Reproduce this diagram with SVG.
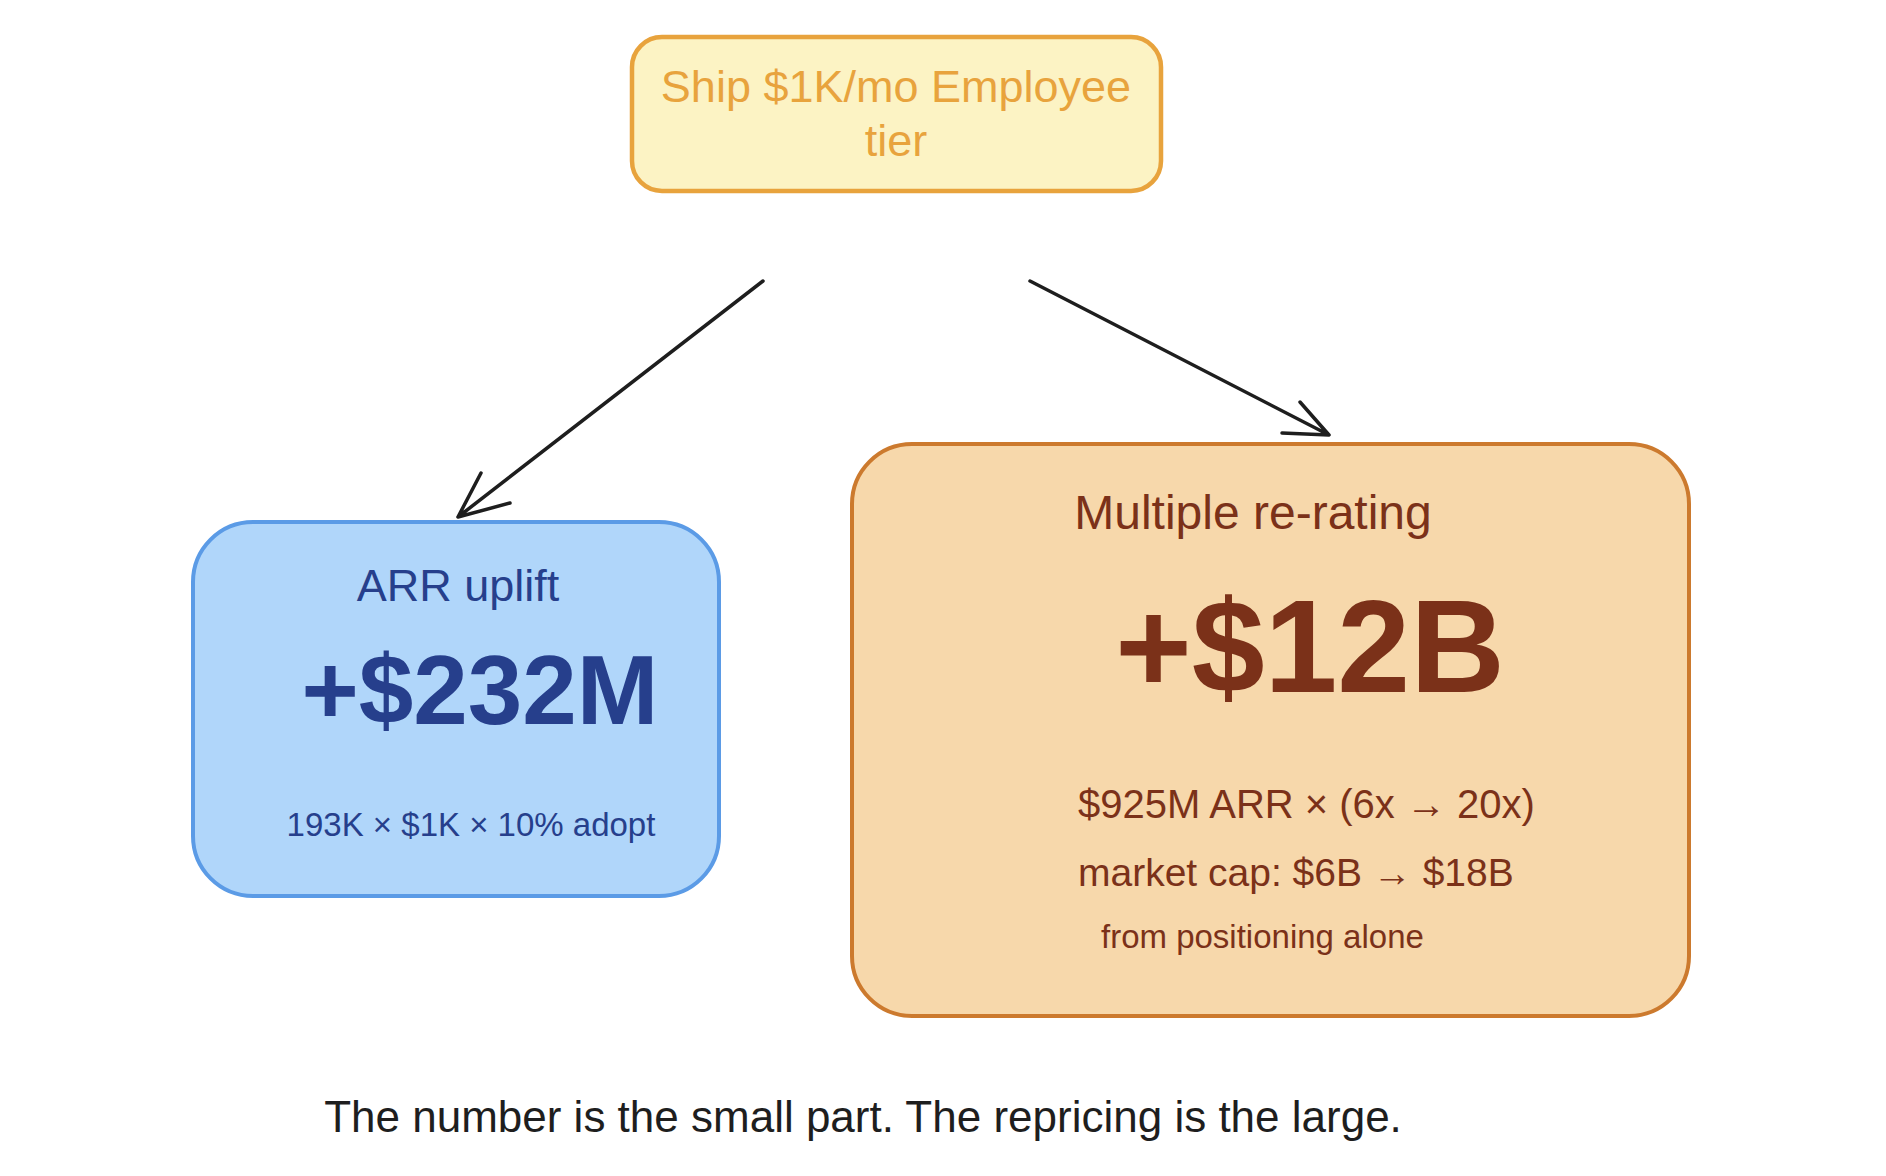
<svg xmlns="http://www.w3.org/2000/svg" width="1886" height="1176" viewBox="0 0 1886 1176">
<style>
text{font-family:"Liberation Sans","Noto Sans",sans-serif}
.conn{fill:none;stroke:#1e1e1e;stroke-width:3.5;stroke-linecap:round;stroke-linejoin:round}
.top-t{fill:#e8a33d;font-size:45px;text-anchor:middle}
.blue-t{fill:#263f8c}
.org-t{fill:#7b3119}
</style>
<rect width="1886" height="1176" fill="#ffffff"/>
<g id="node-ship">
<rect x="632" y="37" width="529" height="154" rx="30" fill="#fcf3c4" stroke="#e8a33d" stroke-width="4.5"/>
<text class="top-t" x="896" y="102">Ship $1K/mo Employee</text>
<text class="top-t" x="896" y="156">tier</text>
</g>
<g id="node-arr">
<rect x="193" y="522" width="526" height="374" rx="60" fill="#b0d6fa" stroke="#5b9be6" stroke-width="4"/>
<text class="blue-t" x="458" y="601" font-size="45" text-anchor="middle">ARR uplift</text>
<text class="blue-t" x="480" y="724" font-size="98" font-weight="bold" text-anchor="middle">+$232M</text>
<text class="blue-t" x="471" y="836" font-size="33" text-anchor="middle">193K × $1K × 10% adopt</text>
</g>
<g id="node-rerating">
<rect x="852" y="444" width="837" height="572" rx="60" fill="#f7d8ab" stroke="#cc7a2e" stroke-width="4"/>
<text class="org-t" x="1253" y="529" font-size="48" text-anchor="middle">Multiple re-rating</text>
<text class="org-t" x="1310" y="692" font-size="131" font-weight="bold" text-anchor="middle">+$12B</text>
<text class="org-t" x="1078" y="818" font-size="40">$925M ARR × (6x → 20x)</text>
<text class="org-t" x="1078" y="886" font-size="39">market cap: $6B → $18B</text>
<text class="org-t" x="1101" y="948" font-size="33">from positioning alone</text>
</g>
<g id="connectors">
<path class="conn" d="M763 281 L458 517 M481 473 L458 517 L510 503"/>
<path class="conn" d="M1030 281 L1329 435 M1300 402 L1329 435 L1282 433"/>
</g>
<g id="caption">
<text x="863" y="1132" font-size="44" fill="#1e1e1e" text-anchor="middle">The number is the small part. The repricing is the large.</text>
</g>
</svg>
